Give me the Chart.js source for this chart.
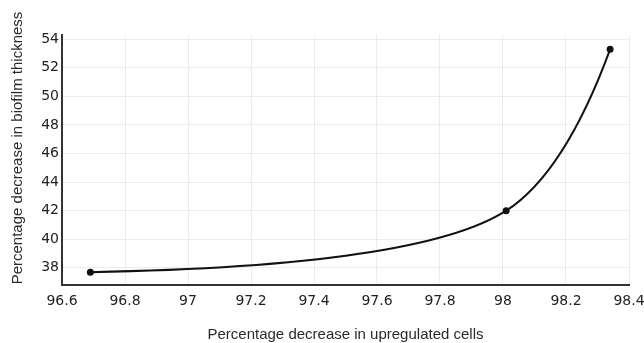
<!DOCTYPE html>
<html>
<head>
<meta charset="utf-8">
<script src="https://cdn.jsdelivr.net/npm/chart.js@4/dist/chart.umd.min.js"></script>
<style>
  html, body { margin: 0; padding: 0; background: #fff; }
  #wrap { width: 644px; height: 343px; }
</style>
</head>
<body>
<div id="wrap"><canvas id="graph"></canvas></div>
<script>
// values
var upregulatedCells = [96.69, 98.01, 98.34];
var biofilmThickness = [37.7, 42.0, 53.3];
var xTicks = [96.6, 96.8, 97, 97.2, 97.4, 97.6, 97.8, 98, 98.2, 98.4];
var yTicks = [38, 40, 42, 44, 46, 48, 50, 52, 54];
var xTitle = 'Percentage decrease in upregulated cells';
var yTitle = 'Percentage decrease in biofilm thickness';

var points = upregulatedCells.map(function(x, i) {
    return { x: x, y: biofilmThickness[i] };
});

Chart.defaults.font.family = 'DejaVu Sans';
Chart.defaults.color = '#333';

// centripetal catmull-rom style tangents (like plotly's spline), ends are quadratic
function splineTangent(prev, cur, next) {
    var d1x = prev.x - cur.x, d1y = prev.y - cur.y;
    var d2x = next.x - cur.x, d2y = next.y - cur.y;
    var d1a = Math.pow(d1x * d1x + d1y * d1y, 0.25);
    var d2a = Math.pow(d2x * d2x + d2y * d2y, 0.25);
    var numx = d2a * d2a * d1x - d1a * d1a * d2x;
    var numy = d2a * d2a * d1y - d1a * d1a * d2y;
    var den1 = 3 * d2a * (d1a + d2a);
    var den2 = 3 * d1a * (d1a + d2a);
    return {
        before: { x: cur.x + numx / den1, y: cur.y + numy / den1 },
        after: { x: cur.x - numx / den2, y: cur.y - numy / den2 }
    };
}

var splinePlugin = {
    id: 'spline',
    beforeDatasetDraw: function(chart, args) {
        var meta = args.meta;
        var line = meta.dataset;
        line.updateControlPoints(chart.chartArea, meta.iScale.axis);
        var pts = meta.data;
        var n = pts.length;
        if (n < 3) return;
        var tan = [];
        for (var i = 1; i < n - 1; i++) {
            tan[i] = splineTangent(pts[i - 1], pts[i], pts[i + 1]);
        }
        for (i = 1; i < n - 1; i++) {
            pts[i].cp1x = tan[i].before.x; pts[i].cp1y = tan[i].before.y;
            pts[i].cp2x = tan[i].after.x; pts[i].cp2y = tan[i].after.y;
        }
        // quadratic end pieces written as cubics
        var q = tan[1].before;
        pts[0].cp2x = pts[0].x + 2 / 3 * (q.x - pts[0].x);
        pts[0].cp2y = pts[0].y + 2 / 3 * (q.y - pts[0].y);
        pts[1].cp1x = pts[1].x + 2 / 3 * (q.x - pts[1].x);
        pts[1].cp1y = pts[1].y + 2 / 3 * (q.y - pts[1].y);
        q = tan[n - 2].after;
        pts[n - 2].cp2x = pts[n - 2].x + 2 / 3 * (q.x - pts[n - 2].x);
        pts[n - 2].cp2y = pts[n - 2].y + 2 / 3 * (q.y - pts[n - 2].y);
        pts[n - 1].cp1x = pts[n - 1].x + 2 / 3 * (q.x - pts[n - 1].x);
        pts[n - 1].cp1y = pts[n - 1].y + 2 / 3 * (q.y - pts[n - 1].y);
        line._path = undefined;
    }
};

// y title sits a little above the middle of the plot in the original, so draw it by hand
var yTitlePlugin = {
    id: 'yTitle',
    afterDraw: function(chart) {
        var c = chart.ctx;
        c.save();
        c.translate(18, 148);
        c.rotate(-Math.PI / 2);
        c.font = '15px "Liberation Sans"';
        c.fillStyle = '#2a2a2a';
        c.textAlign = 'center';
        c.textBaseline = 'middle';
        c.fillText(yTitle, 0, 0);
        c.restore();
    }
};

var ctx = document.getElementById('graph').getContext('2d');
var myChart = new Chart(ctx, {
    type: 'scatter',
    data: {
        datasets: [{
            data: points,
            showLine: true,
            borderColor: '#111',
            backgroundColor: '#111',
            borderWidth: 2,
            pointRadius: 2.5,
            tension: 0.4,
            capBezierPoints: false
        }]
    },
    options: {
        responsive: true,
        maintainAspectRatio: false,
        animation: false,
        layout: { padding: { top: 35, right: 15, left: 0, bottom: 0 } },
        plugins: { legend: { display: false }, tooltip: { enabled: false } },
        scales: {
            x: {
                type: 'linear',
                min: 96.6,
                max: 98.4,
                afterBuildTicks: function(scale) {
                    scale.ticks = xTicks.map(function(v) { return { value: v }; });
                },
                ticks: {
                    font: { size: 14 }, color: '#222', padding: 8, maxRotation: 0,
                    callback: function(v) { return String(v); }
                },
                grid: { color: '#ececec', drawTicks: false },
                border: { color: '#333', width: 2 },
                title: {
                    display: true,
                    text: xTitle,
                    font: { size: 15, family: 'Liberation Sans' },
                    color: '#2a2a2a',
                    padding: { top: 22, bottom: -1 }
                },
                afterFit: function(scale) {
                    scale.height = 58;
                    scale.paddingLeft = 0;
                    scale.paddingRight = 0;
                }
            },
            y: {
                min: 36.8,
                max: 54.3,
                afterBuildTicks: function(scale) {
                    scale.ticks = yTicks.map(function(v) { return { value: v }; });
                },
                ticks: { font: { size: 14 }, color: '#222', padding: 3 },
                grid: { color: '#ececec', drawTicks: false },
                border: { color: '#333', width: 2 },
                afterFit: function(scale) {
                    scale.width = 62;
                    scale.paddingTop = 0;
                    scale.paddingBottom = 0;
                }
            }
        }
    },
    plugins: [splinePlugin, yTitlePlugin]
});
</script>
</body>
</html>
